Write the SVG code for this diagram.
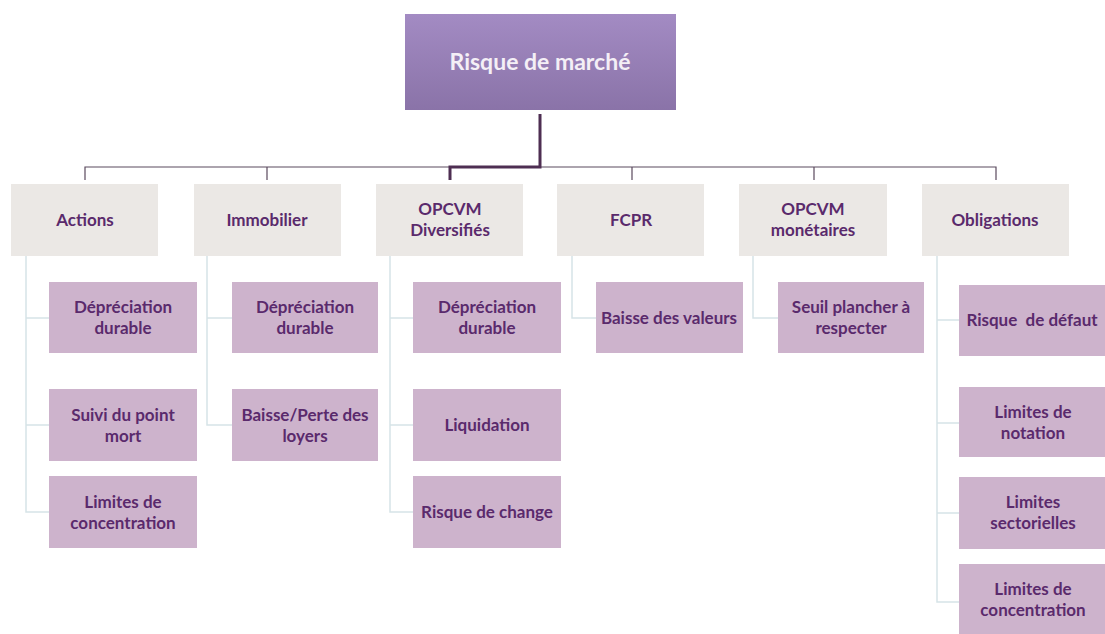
<svg xmlns="http://www.w3.org/2000/svg" width="1105" height="634" viewBox="0 0 1105 634">
<style>
text{font-family:Lato,"Open Sans","Liberation Sans",sans-serif;font-weight:700;text-anchor:middle}
.t{font-size:17px;fill:#5a2a6c}
.cat{fill:#ebe8e5}
.leaf{fill:#cdb3cc}
.thin{stroke:#5b4a5e;stroke-width:1.2;fill:none}
.thick{stroke:#4e2e52;stroke-width:3;fill:none}
.sub{stroke:#d6e4e7;stroke-width:1.5;fill:none}
</style>
<defs>
<linearGradient id="g" x1="0" y1="0" x2="0" y2="1">
<stop offset="0" stop-color="#a38bc3"/>
<stop offset="1" stop-color="#8a73a8"/>
</linearGradient>
</defs>
<rect width="1105" height="634" fill="#ffffff"/>
<g id="connectors">
<path class="thin" d="M85 180V167H996V180M267 167V180M632 167V180M814 167V180"/>
<path class="thick" d="M540 114V167H450V180"/>
<path class="sub" d="M26 256V512H49M26 318H49M26 425H49"/>
<path class="sub" d="M207 256V425H232M207 318H232"/>
<path class="sub" d="M390 256V512H413M390 318H413M390 425H413"/>
<path class="sub" d="M572 256V318H596"/>
<path class="sub" d="M753 256V318H778"/>
<path class="sub" d="M937 256V602H959M937 320H959M937 423H959M937 513H959"/>
</g>
<g id="root">
<rect x="405" y="14" width="271" height="96" fill="url(#g)"/>
<text x="540" y="70" style="font-size:23px;fill:#f4eff6">Risque de marché</text>
</g>
<g id="actions">
<rect class="cat" x="11" y="184" width="147" height="72"/>
<text class="t" x="85" y="226">Actions</text>
</g>
<g id="immobilier">
<rect class="cat" x="194" y="184" width="147" height="72"/>
<text class="t" x="267" y="226">Immobilier</text>
</g>
<g id="opcvm-div">
<rect class="cat" x="376" y="184" width="147" height="72"/>
<text class="t" x="450" y="215">OPCVM</text>
<text class="t" x="450" y="236">Diversifiés</text>
</g>
<g id="fcpr">
<rect class="cat" x="557" y="184" width="147" height="72"/>
<text class="t" x="631" y="226">FCPR</text>
</g>
<g id="opcvm-mon">
<rect class="cat" x="739" y="184" width="148" height="72"/>
<text class="t" x="813" y="215">OPCVM</text>
<text class="t" x="813" y="236">monétaires</text>
</g>
<g id="obligations">
<rect class="cat" x="922" y="184" width="147" height="72"/>
<text class="t" x="995" y="226">Obligations</text>
</g>
<g id="a1">
<rect class="leaf" x="49" y="282" width="148" height="71"/>
<text class="t" x="123" y="313">Dépréciation</text>
<text class="t" x="123" y="334">durable</text>
</g>
<g id="a2">
<rect class="leaf" x="49" y="389" width="148" height="72"/>
<text class="t" x="123" y="420.5">Suivi du point</text>
<text class="t" x="123" y="441.5">mort</text>
</g>
<g id="a3">
<rect class="leaf" x="49" y="476" width="148" height="72"/>
<text class="t" x="123" y="507.5">Limites de</text>
<text class="t" x="123" y="528.5">concentration</text>
</g>
<g id="i1">
<rect class="leaf" x="232" y="282" width="146" height="71"/>
<text class="t" x="305" y="313">Dépréciation</text>
<text class="t" x="305" y="334">durable</text>
</g>
<g id="i2">
<rect class="leaf" x="232" y="389" width="146" height="72"/>
<text class="t" x="305" y="420.5">Baisse/Perte des</text>
<text class="t" x="305" y="441.5">loyers</text>
</g>
<g id="o1">
<rect class="leaf" x="413" y="282" width="148" height="71"/>
<text class="t" x="487" y="313">Dépréciation</text>
<text class="t" x="487" y="334">durable</text>
</g>
<g id="o2">
<rect class="leaf" x="413" y="389" width="148" height="72"/>
<text class="t" x="487" y="431">Liquidation</text>
</g>
<g id="o3">
<rect class="leaf" x="413" y="476" width="148" height="72"/>
<text class="t" x="487" y="518">Risque de change</text>
</g>
<g id="f1">
<rect class="leaf" x="596" y="282" width="147" height="71"/>
<text class="t" x="669" y="323.5">Baisse des valeurs</text>
</g>
<g id="m1">
<rect class="leaf" x="778" y="282" width="146" height="71"/>
<text class="t" x="851" y="313">Seuil plancher à</text>
<text class="t" x="851" y="334">respecter</text>
</g>
<g id="b1">
<rect class="leaf" x="959" y="285" width="148" height="71"/>
<text class="t" x="1032" y="326" style="white-space:pre">Risque  de défaut</text>
</g>
<g id="b2">
<rect class="leaf" x="959" y="387" width="148" height="70"/>
<text class="t" x="1033" y="417.5">Limites de</text>
<text class="t" x="1033" y="438.5">notation</text>
</g>
<g id="b3">
<rect class="leaf" x="959" y="477" width="148" height="72"/>
<text class="t" x="1033" y="508">Limites</text>
<text class="t" x="1033" y="529">sectorielles</text>
</g>
<g id="b4">
<rect class="leaf" x="959" y="564" width="148" height="70"/>
<text class="t" x="1033" y="595">Limites de</text>
<text class="t" x="1033" y="616">concentration</text>
</g>
</svg>
